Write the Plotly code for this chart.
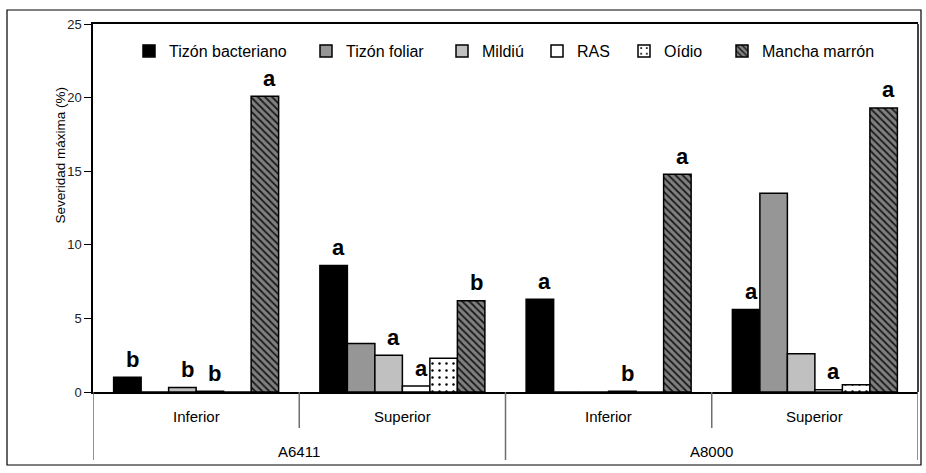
import plotly.graph_objects as go

# Hybrid / level combinations
hibridos = ["A6411", "A6411", "A8000", "A8000"]
estratos = ["Inferior", "Superior", "Inferior", "Superior"]

# Maximum severity (%) per disease
tizon_bacteriano = [1.0, 8.6, 6.3, 5.6]
tizon_foliar = [0.0, 3.3, 0.0, 13.5]
mildiu = [0.3, 2.5, 0.0, 2.6]
ras = [0.05, 0.4, 0.05, 0.15]
oidio = [0.0, 2.3, 0.0, 0.5]
mancha_marron = [20.1, 6.2, 14.8, 19.3]

# Significance letters (empty = no letter shown)
let_tizon_bacteriano = ["b", "a", "a", "a"]
let_tizon_foliar = ["", "", "", ""]
let_mildiu = ["b", "a", "", ""]
let_ras = ["b", "a", "b", "a"]
let_oidio = ["", "", "", ""]
let_mancha_marron = ["a", "b", "a", "a"]

y_ticks = [0, 5, 10, 15, 20, 25]

FONT = "Liberation Sans, Arial, sans-serif"
W, H = 926, 473
ML, MR, MT, MB = 93, 8, 24, 81
PW, PH = W - ML - MR, H - MT - MB


def px_x(px):
    return (px - ML) / PW


def px_y(py):
    return (H - MB - py) / PH


series = [
    ("Tizón bacteriano", tizon_bacteriano, let_tizon_bacteriano,
     dict(color="#000000")),
    ("Tizón foliar", tizon_foliar, let_tizon_foliar, dict(color="#969696")),
    ("Mildiú", mildiu, let_mildiu, dict(color="#c0c0c0")),
    ("RAS", ras, let_ras, dict(color="#ffffff")),
    ("Oídio", oidio, let_oidio,
     dict(color="#ffffff",
          pattern=dict(shape=".", fgcolor="#000000", bgcolor="#ffffff",
                       size=7, solidity=0.1, fillmode="replace"))),
    ("Mancha marrón", mancha_marron, let_mancha_marron,
     dict(color="#808080",
          pattern=dict(shape="\\", fgcolor="#1a1a1a", bgcolor="#808080",
                       size=5, solidity=0.35, fillmode="replace"))),
]

legend_left_px = [129, 306, 442, 537, 624, 722]

fig = go.Figure()
n = len(series)
bargap = 0.2
bw = (1 - bargap) / n

annotations = []
for i, (name, vals, letters, mk) in enumerate(series):
    leg = "legend" if i == 0 else f"legend{i + 1}"
    fig.add_trace(go.Bar(
        x=list(range(len(vals))), y=vals, name=name, legend=leg,
        marker=dict(line=dict(color="#000000", width=1.5), **mk),
    ))
    off = -(1 - bargap) / 2 + (i + 0.5) * bw
    for j, (v, t) in enumerate(zip(vals, letters)):
        if t:
            annotations.append(dict(
                x=j + off, y=v, xref="x", yref="y", text=f"<b>{t}</b>",
                showarrow=False, xshift=5, yshift=18, yanchor="middle",
                font=dict(family=FONT, size=22, color="#000000"),
            ))

# category labels under the axis
for j, e in enumerate(estratos):
    annotations.append(dict(
        x=j, y=px_y(416), xref="x", yref="paper", text=e, showarrow=False,
        yanchor="middle", font=dict(family=FONT, size=15, color="#000000")))
groups = []
for j, h in enumerate(hibridos):
    if not groups or groups[-1][0] != h:
        groups.append([h, j, j])
    else:
        groups[-1][2] = j
for h, a, b in groups:
    annotations.append(dict(
        x=(a + b) / 2, y=px_y(451), xref="x", yref="paper", text=h,
        showarrow=False, yanchor="middle",
        font=dict(family=FONT, size=15, color="#000000")))

# y-axis title
annotations.append(dict(
    x=px_x(50), y=px_y(155), xref="paper", yref="paper",
    text="Severidad máxima (%)", textangle=-90, showarrow=False,
    font=dict(family=FONT, size=13.5, color="#000000")))

shapes = []
# dividers between categories
for j in range(len(hibridos) + 1):
    xb = j - 0.5
    if j == 0 or j == len(hibridos) or hibridos[j] != hibridos[j - 1]:
        y0 = px_y(460)
    else:
        y0 = px_y(428)
    shapes.append(dict(type="line", xref="x", yref="paper", x0=xb, x1=xb,
                       y0=y0, y1=0, line=dict(color="#6e6e6e", width=1.5)))
# right edge of plot area
shapes.append(dict(type="line", xref="paper", yref="paper", x0=1, x1=1,
                   y0=0, y1=1, line=dict(color="#000000", width=1.5)))
# outer frame
shapes.append(dict(type="rect", xref="paper", yref="paper",
                   x0=px_x(7), x1=px_x(921), y0=px_y(465), y1=px_y(10),
                   line=dict(color="#000000", width=1.2)))

layout_legends = {}
for i, lx in enumerate(legend_left_px):
    key = "legend" if i == 0 else f"legend{i + 1}"
    layout_legends[key] = dict(
        x=px_x(lx), y=px_y(51), xanchor="left", yanchor="middle",
        orientation="h", bgcolor="rgba(0,0,0,0)", borderwidth=0,
        font=dict(family=FONT, size=16, color="#000000"),
    )

fig.update_layout(
    width=W, height=H,
    margin=dict(l=ML, r=MR, t=MT, b=MB),
    paper_bgcolor="#ffffff", plot_bgcolor="#ffffff",
    barmode="group", bargap=bargap, bargroupgap=0,
    showlegend=True,
    annotations=annotations, shapes=shapes,
    xaxis=dict(range=[-0.5, len(hibridos) - 0.5], showticklabels=False,
               ticks="", showgrid=False, zeroline=False, showline=True,
               linecolor="#000000", linewidth=1.5, mirror=True),
    yaxis=dict(range=[0, 25], tickvals=y_ticks, ticks="outside", ticklen=7,
               tickwidth=1.2, tickcolor="#000000", showgrid=False,
               zeroline=False, showline=True, linecolor="#000000",
               linewidth=1.5,
               tickfont=dict(family=FONT, size=13, color="#222222")),
    **layout_legends,
)

fig.write_html("out.html")
